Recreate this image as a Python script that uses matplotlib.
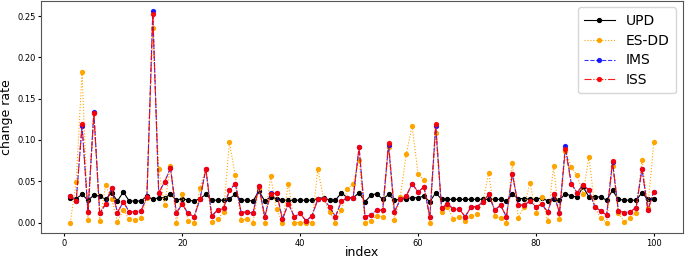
import numpy as np
import matplotlib
matplotlib.use("Agg")
import matplotlib.pyplot as plt

index = np.arange(1, 101)

upd = [
    0.030, 0.029, 0.034, 0.027, 0.033, 0.032, 0.028, 0.036, 0.026, 0.037,
    0.026, 0.026, 0.026, 0.032, 0.028, 0.030, 0.030, 0.034, 0.027, 0.029,
    0.027, 0.026, 0.029, 0.034, 0.027, 0.027, 0.027, 0.029, 0.034, 0.027,
    0.027, 0.026, 0.038, 0.026, 0.031, 0.029, 0.027, 0.027, 0.027, 0.027,
    0.027, 0.027, 0.029, 0.030, 0.027, 0.027, 0.036, 0.030, 0.030, 0.036,
    0.025, 0.033, 0.035, 0.028, 0.034, 0.027, 0.028, 0.029, 0.030, 0.030,
    0.032, 0.025, 0.036, 0.028, 0.028, 0.028, 0.028, 0.028, 0.028, 0.028,
    0.028, 0.028, 0.028, 0.028, 0.026, 0.034, 0.029, 0.029, 0.028, 0.028,
    0.030, 0.026, 0.029, 0.027, 0.035, 0.032, 0.031, 0.043, 0.031, 0.031,
    0.031, 0.027, 0.039, 0.028, 0.027, 0.027, 0.027, 0.036, 0.028, 0.028,
]

es_dd = [
    0.000, 0.049, 0.182, 0.003, 0.132, 0.002, 0.045, 0.029, 0.001, 0.015,
    0.004, 0.003, 0.006, 0.030, 0.235, 0.065, 0.021, 0.069, 0.000, 0.034,
    0.002, 0.000, 0.042, 0.065, 0.001, 0.004, 0.013, 0.097, 0.057, 0.003,
    0.004, 0.000, 0.042, 0.000, 0.056, 0.016, 0.000, 0.047, 0.000, 0.000,
    0.000, 0.000, 0.065, 0.028, 0.013, 0.000, 0.015, 0.040, 0.047, 0.076,
    0.000, 0.002, 0.008, 0.007, 0.091, 0.003, 0.031, 0.083, 0.117, 0.059,
    0.051, 0.000, 0.108, 0.013, 0.019, 0.004, 0.007, 0.002, 0.008, 0.010,
    0.025, 0.060, 0.008, 0.005, 0.000, 0.072, 0.006, 0.019, 0.048, 0.012,
    0.031, 0.002, 0.068, 0.004, 0.086, 0.067, 0.057, 0.035, 0.079, 0.019,
    0.005, 0.000, 0.069, 0.011, 0.001, 0.006, 0.012, 0.076, 0.018, 0.097,
]

iss = [
    0.032, 0.026, 0.119, 0.013, 0.132, 0.011, 0.023, 0.042, 0.012, 0.025,
    0.013, 0.013, 0.014, 0.031, 0.252, 0.036, 0.049, 0.066, 0.012, 0.022,
    0.011, 0.007, 0.028, 0.065, 0.008, 0.015, 0.017, 0.039, 0.047, 0.012,
    0.013, 0.011, 0.044, 0.007, 0.034, 0.036, 0.004, 0.023, 0.007, 0.011,
    0.002, 0.008, 0.028, 0.028, 0.019, 0.007, 0.026, 0.030, 0.030, 0.091,
    0.007, 0.009, 0.015, 0.015, 0.096, 0.013, 0.028, 0.032, 0.047, 0.037,
    0.043, 0.007, 0.119, 0.017, 0.023, 0.016, 0.016, 0.007, 0.019, 0.019,
    0.025, 0.034, 0.015, 0.021, 0.007, 0.059, 0.021, 0.021, 0.026, 0.019,
    0.022, 0.013, 0.035, 0.012, 0.089, 0.047, 0.036, 0.046, 0.039, 0.019,
    0.014, 0.009, 0.074, 0.014, 0.012, 0.013, 0.018, 0.065, 0.015, 0.037,
]

ims = [
    0.032, 0.026, 0.117, 0.013, 0.134, 0.011, 0.022, 0.042, 0.012, 0.025,
    0.013, 0.013, 0.014, 0.031, 0.256, 0.036, 0.049, 0.066, 0.012, 0.022,
    0.011, 0.007, 0.028, 0.065, 0.008, 0.015, 0.017, 0.039, 0.047, 0.012,
    0.013, 0.011, 0.044, 0.007, 0.036, 0.036, 0.004, 0.023, 0.007, 0.011,
    0.002, 0.008, 0.028, 0.028, 0.019, 0.007, 0.026, 0.030, 0.030, 0.091,
    0.007, 0.009, 0.015, 0.015, 0.094, 0.013, 0.028, 0.032, 0.047, 0.037,
    0.043, 0.007, 0.117, 0.017, 0.023, 0.016, 0.016, 0.007, 0.019, 0.019,
    0.025, 0.034, 0.015, 0.021, 0.007, 0.059, 0.021, 0.021, 0.026, 0.019,
    0.022, 0.013, 0.035, 0.012, 0.093, 0.047, 0.036, 0.046, 0.039, 0.019,
    0.014, 0.009, 0.073, 0.014, 0.012, 0.013, 0.018, 0.065, 0.015, 0.037,
]

fig = plt.figure(figsize=(6.85, 2.61), dpi=100)
ax = fig.add_axes([0.060, 0.107, 0.937, 0.891])

ms = 2.8
lw = 0.8
ax.plot(index, upd, color="black", linestyle="-", marker="o", markersize=ms,
        linewidth=lw, label="UPD")
ax.plot(index, es_dd, color="orange", linestyle=":", marker="o", markersize=ms,
        linewidth=lw, label="ES-DD")
ax.plot(index, ims, color="blue", linestyle="--", marker="o", markersize=ms,
        linewidth=lw, alpha=0.8, label="IMS")
ax.plot(index, iss, color="red", linestyle="-.", marker="o", markersize=ms,
        linewidth=lw, alpha=0.9, label="ISS")

ax.set_xlabel("index", fontsize=9, labelpad=-1)
ax.set_ylabel("change rate", fontsize=9, labelpad=3)
ax.tick_params(axis="both", which="major", labelsize=6, length=2.5, pad=1.5)
ax.set_yticks([0.0, 0.05, 0.10, 0.15, 0.20, 0.25])
ax.set_yticklabels(["0.00", "0.05", "0.10", "0.15", "0.20", "0.25"])
ax.legend(loc="upper right", fontsize=10, handlelength=2.2, borderpad=0.45,
          labelspacing=0.42)

for s in ax.spines.values():
    s.set_edgecolor("#555555")

plt.savefig("out.png", dpi=100)
